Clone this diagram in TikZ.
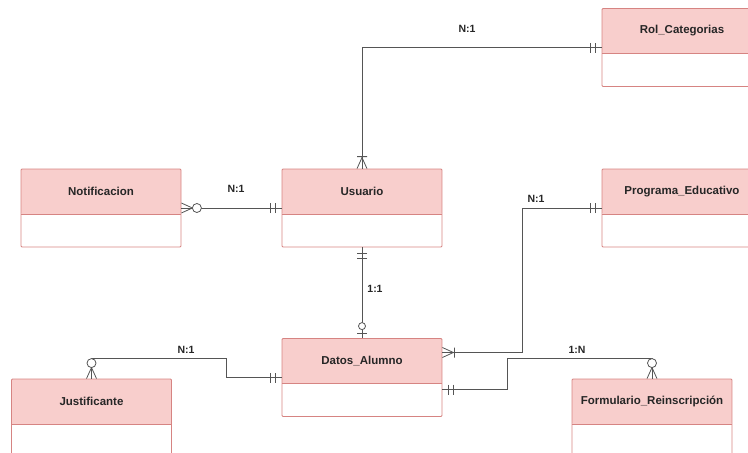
\documentclass[tikz,border=0pt]{standalone}
\usepackage{fontspec}
\setmainfont{Liberation Sans}
\usetikzlibrary{positioning}
\definecolor{erFill}{RGB}{248,206,204}
\definecolor{erEdge}{RGB}{214,132,130}
\definecolor{erGrey}{RGB}{85,85,85}

\tikzset{
  entity/.style={draw=erEdge, line width=0.8pt, minimum width=160pt, minimum height=78pt,
    inner sep=0pt, rounded corners=1pt,
    path picture={
      \fill[erFill] (path picture bounding box.north west)
        rectangle ([yshift=-45pt]path picture bounding box.north east);
      \draw[erEdge, line width=0.8pt] ([yshift=-45pt]path picture bounding box.north west)
        -- ([yshift=-45pt]path picture bounding box.north east);},
    label={[erTitle]north:#1}},
  erTitle/.style={anchor=center, yshift=-22.5pt, font=\fontsize{11.5}{13}\selectfont\bfseries, text=black!85},
  erRel/.style={draw=erGrey, line width=0.8pt},
  erCard/.style={font=\fontsize{10.5}{12}\selectfont\bfseries, text=black!85}
}

% crow's foot ends: point, direction away from the entity
\newcommand{\mandOne}[2]{%
  \begin{scope}[shift={(#1)},rotate=#2]
    \draw[erRel] (6,-5) -- (6,5) (11,-5) -- (11,5);
  \end{scope}}
\newcommand{\oneMany}[2]{%
  \begin{scope}[shift={(#1)},rotate=#2]
    \draw[erRel] (0,-5) -- (11,0) -- (0,5) (12,-5) -- (12,5);
  \end{scope}}
\newcommand{\zeroMany}[2]{%
  \begin{scope}[shift={(#1)},rotate=#2]
    \draw[erRel] (0,-5) -- (11,0) -- (0,5);
    \draw[erRel, fill=white] (15.5,0) circle (4.5);
  \end{scope}}
\newcommand{\zeroOne}[2]{%
  \begin{scope}[shift={(#1)},rotate=#2]
    \draw[erRel] (5,-5) -- (5,5);
    \draw[erRel, fill=white] (12,0) circle (3.5);
  \end{scope}}

\begin{document}
\begin{tikzpicture}[x=1pt, y=-1pt]
  \useasboundingbox (0,0) rectangle (748,453);

  % entities
  \node[entity=Rol\_Categorias] (rol) at (682,47.5) {};
  \node[entity=Notificacion] (notif) at (101,208) {};
  \node[entity=Usuario] (usuario) at (362,208) {};
  \node[entity=Programa\_Educativo] (programa) at (682,208) {};
  \node[entity=Datos\_Alumno] (datos) at (362,377.5) {};
  \node[entity=Justificante] (justif) at (91.5,418) {};
  \node[entity=Formulario\_Reinscripción] (formulario) at (652,418) {};

  \coordinate (datosUp) at ([yshift=25pt]datos.east);
  \coordinate (datosLow) at ([yshift=-12pt]datos.east);
  \coordinate (formTop) at ([yshift=20pt]formulario.north);
  \coordinate (justTop) at ([yshift=20pt]justif.north);

  % relations
  \draw[erRel] (usuario.north) |- (rol.west);
  \draw[erRel] (notif.east) -- (usuario.west);
  \draw[erRel] (usuario.south) -- (datos.north);
  \draw[erRel] (datosUp) -- ++(80,0) |- (programa.west);
  \draw[erRel] (datosLow) -- ++(65,0) |- (formTop) -- (formulario.north);
  \draw[erRel] (datos.west) -- ++(-55,0) |- (justTop) -- (justif.north);

  \oneMany{usuario.north}{90}
  \mandOne{rol.west}{180}
  \zeroMany{notif.east}{0}
  \mandOne{usuario.west}{180}
  \mandOne{usuario.south}{-90}
  \zeroOne{datos.north}{90}
  \oneMany{datosUp}{0}
  \mandOne{programa.west}{180}
  \mandOne{datosLow}{0}
  \zeroMany{formulario.north}{90}
  \mandOne{datos.west}{180}
  \zeroMany{justif.north}{90}

  % cardinalities
  \node[erCard] (cardRol) at (467,29) {N:1};
  \node[erCard] (cardNotif) at (236,189) {N:1};
  \node[erCard] (cardDatos) at (375,289) {1:1};
  \node[erCard] (cardProg) at (536,199) {N:1};
  \node[erCard] (cardForm) at (577,350) {1:N};
  \node[erCard] (cardJust) at (186,350) {N:1};
\end{tikzpicture}
\end{document}
